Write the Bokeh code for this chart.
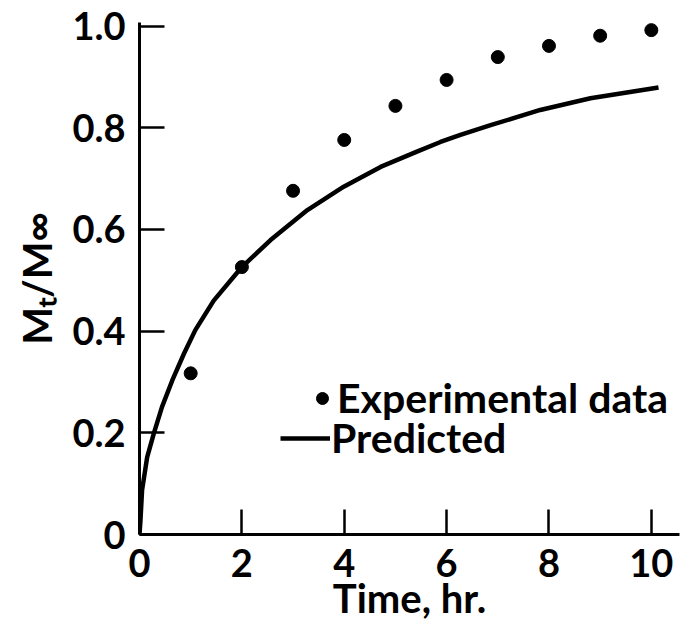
from bokeh.plotting import figure
from bokeh.models import Range1d, Legend, LegendItem, FixedTicker
from bokeh.embed import file_html
from bokeh.resources import INLINE

# Measured release: fraction released vs time (hr)
exp_time = [1, 2, 3, 4, 5, 6, 7, 8, 9, 10]
exp_frac = [0.317, 0.526, 0.676, 0.776, 0.843, 0.894, 0.939, 0.961, 0.981, 0.992]

# Model prediction, sampled along the curve
pred_time = [0.0, 0.02, 0.05, 0.15, 0.28, 0.44, 0.64, 0.87, 1.09, 1.45, 2.0, 2.56,
             3.28, 3.99, 4.71, 5.42, 5.88, 6.27, 6.86, 7.83, 8.81, 10.14]
pred_frac = [0.0, 0.03, 0.087, 0.152, 0.199, 0.251, 0.303, 0.356, 0.402, 0.46, 0.526, 0.579,
             0.638, 0.684, 0.723, 0.753, 0.772, 0.786, 0.805, 0.835, 0.858, 0.879]

x_ticks = [0, 2, 4, 6, 8, 10]
y_ticks = [0, 0.2, 0.4, 0.6, 0.8, 1.0]
y_tick_text = {0: "0", 1: "1.0"}
x_title = "Time, hr."
y_title = "M\u209c/M\u221e"

FONT = "Lato"
INK = "black"

p = figure(width=694, height=624, output_backend="svg", toolbar_location=None,
           x_range=Range1d(0, 10.55), y_range=Range1d(0, 1.007),
           min_border_left=139, min_border_right=15, min_border_top=22, min_border_bottom=90)
p.outline_line_color = None
p.grid.visible = False
p.background_fill_color = "white"
p.border_fill_color = "white"

p.xaxis.ticker = FixedTicker(ticks=x_ticks)
p.yaxis.ticker = FixedTicker(ticks=y_ticks)
p.yaxis.major_label_overrides = y_tick_text

for ax in (p.xaxis[0], p.yaxis[0]):
    ax.axis_line_width = 3
    ax.axis_line_color = INK
    ax.major_tick_in = 25
    ax.major_tick_out = 0
    ax.major_tick_line_width = 2.5
    ax.major_tick_line_color = INK
    ax.minor_tick_line_color = None
    ax.major_label_text_font = FONT
    ax.major_label_text_font_style = "bold"
    ax.major_label_text_font_size = "38px"
    ax.major_label_text_color = INK
    ax.axis_label_text_font = FONT
    ax.axis_label_text_font_style = "bold"
    ax.axis_label_text_color = INK
p.xaxis.major_label_standoff = 14
p.yaxis.major_label_standoff = 14

# keep the bottom panel at 90 px so the plotting frame keeps its size
p.xaxis.axis_label = x_title
p.xaxis.axis_label_text_font_size = "40px"
p.xaxis.axis_label_standoff = -6
p.yaxis.axis_label = y_title
p.yaxis.axis_label_text_font_size = "40px"
p.yaxis.axis_label_standoff = 8

curve = p.line(pred_time, pred_frac, line_width=4.5, line_color=INK)
dots = p.scatter(exp_time, exp_frac, size=13, fill_color=INK, line_color=INK)

leg_common = dict(padding=0, margin=0, spacing=0, border_line_color=None,
                  background_fill_alpha=0, label_text_font=FONT,
                  label_text_font_style="bold", label_text_font_size="41px",
                  label_text_color=INK)
leg_dots = Legend(items=[LegendItem(label="Experimental data", renderers=[dots])],
                  location=(168, 112), glyph_width=30, glyph_height=30,
                  label_standoff=-5, **leg_common)
leg_line = Legend(items=[LegendItem(label="Predicted", renderers=[curve])],
                  location=(141, 72), glyph_width=50, glyph_height=20,
                  label_standoff=1, **leg_common)
p.add_layout(leg_dots, "center")
p.add_layout(leg_line, "center")

open("out.html", "w").write(file_html(p, INLINE))
